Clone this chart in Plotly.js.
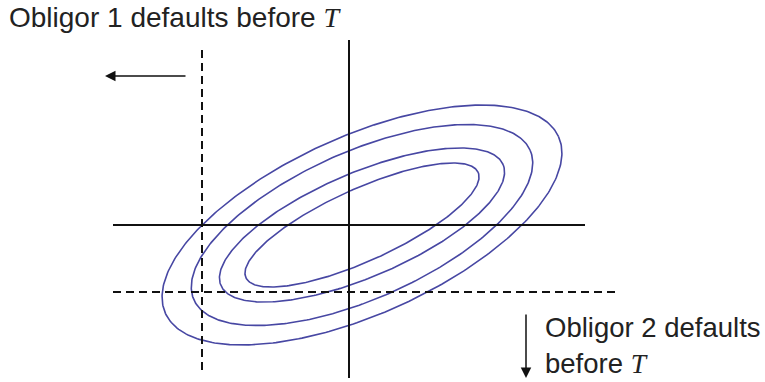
<!DOCTYPE html>
<html>
<head>
<meta charset="utf-8">
<script src="https://cdn.plot.ly/plotly-3.0.1.min.js"></script>
<style>html,body{margin:0;padding:0;background:#fff;}#chart{width:765px;height:382px;}</style>
</head>
<body>
<div id="chart"></div>
<script>
// Iso-density contours of the joint distribution (data units)
const ellipseCenterX = [0.26, 0.26, 0.26, 0.26];
const ellipseCenterY = [0, 0, 0, 0];
const ellipseSemiMajor = [4.31, 3.68, 3.07, 2.55];
const ellipseSemiMinor = [1.78, 1.47, 1.04, 0.72];
const ellipseAngleDeg = [24.2, 24.0, 23.2, 24.4];

// Axes through the origin
const axisHX = [-4.72, 4.72], axisHY = [0, 0];
const axisVX = [0, 0], axisVY = [3.7, -3.06];

// Default thresholds (dashed)
const threshold1X = [-2.94, -2.94], threshold1Y = [3.5, -2.9];
const threshold2X = [-4.72, 5.42], threshold2Y = [-1.34, -1.34];

// Arrows [tail, head]
const arrow1X = [-3.24, -4.88], arrow1Y = [2.98, 2.98];
const arrow2X = [3.54, 3.54], arrow2Y = [-1.76, -3.06];

const labels = [
  'Obligor 1 defaults before <i><span style="font-family:\'Liberation Serif\',serif">T</span></i>',
  'Obligor 2 defaults<br>before <i><span style="font-family:\'Liberation Serif\',serif">T</span></i>'
];
const labelX = [-6.84, 3.88];
const labelY = [4.15, -2.4];

const traces = [];
for (let k = 0; k < ellipseSemiMajor.length; k++) {
  const xs = [], ys = [];
  const th = ellipseAngleDeg[k] * Math.PI / 180;
  for (let i = 0; i <= 360; i++) {
    const t = i * Math.PI / 180;
    const a = ellipseSemiMajor[k] * Math.cos(t), b = ellipseSemiMinor[k] * Math.sin(t);
    xs.push(ellipseCenterX[k] + a * Math.cos(th) - b * Math.sin(th));
    ys.push(ellipseCenterY[k] + a * Math.sin(th) + b * Math.cos(th));
  }
  traces.push({x: xs, y: ys, mode: 'lines', line: {color: '#4747a3', width: 1.6}, hoverinfo: 'skip'});
}
traces.push({x: axisHX, y: axisHY, mode: 'lines', line: {color: '#111', width: 2}});
traces.push({x: axisVX, y: axisVY, mode: 'lines', line: {color: '#111', width: 2}});
traces.push({x: threshold1X, y: threshold1Y, mode: 'lines', line: {color: '#111', width: 2, dash: '8px,5px'}});
traces.push({x: threshold2X, y: threshold2Y, mode: 'lines', line: {color: '#111', width: 2, dash: '8px,5px'}});

const annotations = [
  {x: arrow1X[1], y: arrow1Y[1], ax: arrow1X[0], ay: arrow1Y[0], axref: 'x', ayref: 'y', xref: 'x', yref: 'y',
   text: '', showarrow: true, arrowhead: 2, arrowsize: 1.4, arrowwidth: 1.5, arrowcolor: '#111'},
  {x: arrow2X[1], y: arrow2Y[1], ax: arrow2X[0], ay: arrow2Y[0], axref: 'x', ayref: 'y', xref: 'x', yref: 'y',
   text: '', showarrow: true, arrowhead: 2, arrowsize: 1.4, arrowwidth: 1.5, arrowcolor: '#111'},
  {x: labelX[0], y: labelY[0], xref: 'x', yref: 'y', text: labels[0], showarrow: false,
   xanchor: 'left', yanchor: 'middle', align: 'left', font: {family: 'Liberation Sans, Arial, sans-serif', size: 28, color: '#222'}},
  {x: labelX[1], y: labelY[1], xref: 'x', yref: 'y', text: labels[1], showarrow: false,
   xanchor: 'left', yanchor: 'middle', align: 'left', font: {family: 'Liberation Sans, Arial, sans-serif', size: 27.5, color: '#222'}}
];

const layout = {
  width: 765, height: 382,
  margin: {l: 0, r: 0, t: 0, b: 0, pad: 0},
  paper_bgcolor: '#fff', plot_bgcolor: '#fff',
  showlegend: false,
  xaxis: {range: [-6.98, 8.32], visible: false, fixedrange: true},
  yaxis: {range: [-3.14, 4.5], visible: false, fixedrange: true},
  annotations: annotations
};
Plotly.newPlot('chart', traces, layout, {displayModeBar: false, staticPlot: true});
</script>
</body>
</html>
